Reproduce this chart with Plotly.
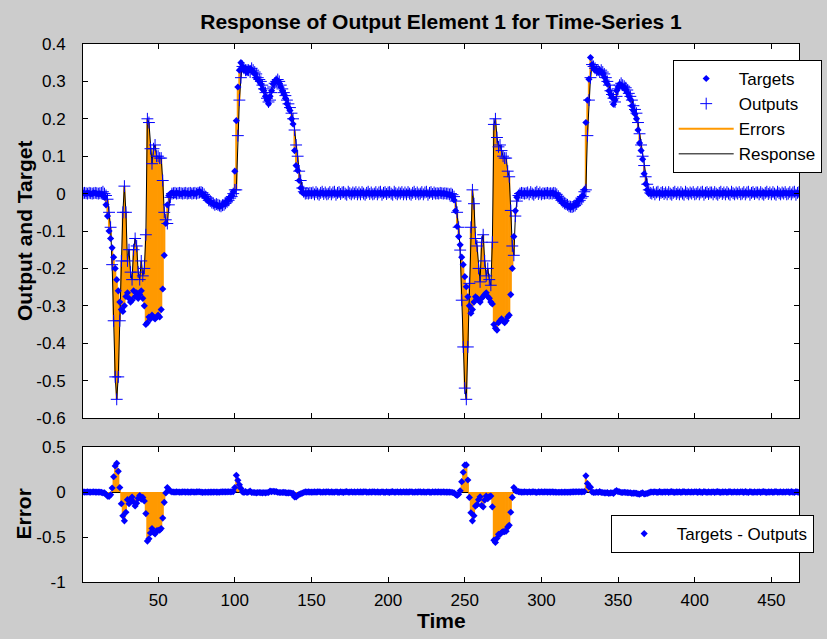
import plotly.graph_objects as go

# ---------------- data ----------------
# one value per time step, t = 1 .. 468 ; rows hold 10 steps each
targets = [
    0.002, 0.001, 0.0, 0.002, 0.001, -0.001, 0.0, 0.002, 0.001, 0.0,            # 1-10
    -0.001, 0.0, -0.002, -0.004, -0.01, -0.03, -0.06, -0.10, -0.12, -0.145,      # 11-20
    -0.17, -0.20, -0.23, -0.26, -0.29, -0.31, -0.315, -0.30, -0.275, -0.265,     # 21-30
    -0.28, -0.29, -0.285, -0.26, -0.275, -0.265, -0.28, -0.27, -0.26, -0.28,     # 31-40
    -0.30, -0.35, -0.345, -0.33, -0.335, -0.325, -0.33, -0.335, -0.33, -0.325,   # 41-50
    -0.33, -0.31, -0.255, -0.165, -0.08, -0.03, -0.005, 0.0, 0.002, 0.001,       # 51-60
    0.0, 0.002, 0.001, 0.0, -0.001, 0.001, 0.002, 0.0, 0.001, -0.001,            # 61-70
    0.0, 0.002, 0.001, 0.0, 0.001, 0.004, 0.006, 0.003, -0.002, -0.005,          # 71-80
    -0.01, -0.015, -0.02, -0.022, -0.025, -0.028, -0.03, -0.03, -0.032, -0.035,  # 81-90
    -0.033, -0.03, -0.028, -0.025, -0.02, -0.015, -0.01, -0.005, 0.005, 0.06,    # 91-100
    0.195, 0.285, 0.33, 0.35, 0.34, 0.33, 0.335, 0.325, 0.33, 0.335,             # 101-110
    0.33, 0.325, 0.32, 0.31, 0.305, 0.30, 0.293, 0.28, 0.275, 0.26,              # 111-120
    0.25, 0.24, 0.26, 0.275, 0.293, 0.30, 0.305, 0.302, 0.295, 0.285,            # 121-130
    0.275, 0.266, 0.255, 0.24, 0.23, 0.222, 0.20, 0.186, 0.115, 0.075,           # 131-140
    0.062, 0.035, 0.015, 0.003, 0.0, 0.001, 0.0, 0.002, 0.001, 0.0,              # 141-150
    0.001, 0.0, 0.002, 0.001, 0.0, 0.001, 0.002, 0.0, 0.001, 0.0,                # 151-160
    0.002, 0.001, 0.0, 0.001, 0.002, 0.0, 0.001, 0.0, 0.002, 0.001,              # 161-170
    0.0, 0.001, 0.001, 0.002, 0.0, 0.001, 0.0, 0.002, 0.001, 0.001,              # 171-180
    0.001, 0.0, 0.002, 0.001, 0.0, 0.001, 0.002, 0.0, 0.001, 0.0,                # 181-190
    0.002, 0.001, 0.0, 0.001, 0.002, 0.0, 0.001, 0.0, 0.002, 0.001,              # 191-200
    0.0, 0.001, 0.001, 0.002, 0.0, 0.001, 0.0, 0.002, 0.001, 0.001,              # 201-210
    0.001, 0.0, 0.002, 0.001, 0.0, 0.001, 0.002, 0.0, 0.001, 0.0,                # 211-220
    0.002, 0.001, 0.0, 0.001, 0.002, 0.0, 0.001, 0.0, 0.002, 0.001,              # 221-230
    0.001, 0.0, 0.002, 0.001, 0.0, 0.001, 0.0, -0.001, -0.002, -0.003,           # 231-240
    -0.003, -0.008, -0.017, -0.046, -0.088, -0.115, -0.137, -0.17, -0.19, -0.222,  # 241-250
    -0.249, -0.276, -0.30, -0.32, -0.31, -0.29, -0.276, -0.28, -0.285, -0.29,    # 251-260
    -0.28, -0.275, -0.27, -0.265, -0.275, -0.28, -0.29, -0.295, -0.35, -0.36,    # 261-270
    -0.365, -0.345, -0.34, -0.335, -0.34, -0.345, -0.34, -0.33, -0.325, -0.27,   # 271-280
    -0.20, -0.115, -0.046, -0.01, 0.0, 0.002, 0.001, 0.0, 0.002, 0.001,          # 281-290
    0.0, 0.001, 0.001, 0.002, 0.0, 0.001, 0.0, 0.002, 0.001, 0.001,              # 291-300
    0.0, 0.001, 0.002, 0.0, 0.001, 0.0, 0.002, 0.001, 0.0, -0.005,               # 301-310
    -0.01, -0.015, -0.02, -0.025, -0.028, -0.03, -0.033, -0.035, -0.037, -0.035, # 311-320
    -0.033, -0.03, -0.025, -0.02, -0.015, -0.01, -0.005, 0.01, 0.19, 0.25,       # 321-330
    0.306, 0.364, 0.345, 0.335, 0.33, 0.33, 0.325, 0.33, 0.325, 0.32,            # 331-340
    0.311, 0.30, 0.293, 0.275, 0.265, 0.257, 0.239, 0.25, 0.275, 0.285,          # 341-350
    0.293, 0.29, 0.285, 0.284, 0.278, 0.27, 0.26, 0.252, 0.235, 0.222,           # 351-360
    0.213, 0.20, 0.17, 0.135, 0.115, 0.092, 0.053, 0.026, 0.01, 0.0,             # 361-370
    0.001, 0.0, 0.002, 0.001, 0.0, 0.001, 0.002, 0.0, 0.001, 0.0,                # 371-380
    0.002, 0.001, 0.0, 0.001, 0.002, 0.0, 0.001, 0.0, 0.002, 0.001,              # 381-390
    0.0, 0.001, 0.001, 0.002, 0.0, 0.001, 0.0, 0.002, 0.001, 0.001,              # 391-400
    0.001, 0.0, 0.002, 0.001, 0.0, 0.001, 0.002, 0.0, 0.001, 0.0,                # 401-410
    0.002, 0.001, 0.0, 0.001, 0.002, 0.0, 0.001, 0.0, 0.002, 0.001,              # 411-420
    0.0, 0.001, 0.001, 0.002, 0.0, 0.001, 0.0, 0.002, 0.001, 0.001,              # 421-430
    0.001, 0.0, 0.002, 0.001, 0.0, 0.001, 0.002, 0.0, 0.001, 0.0,                # 431-440
    0.002, 0.001, 0.0, 0.001, 0.002, 0.0, 0.001, 0.0, 0.002, 0.001,              # 441-450
    0.0, 0.001, 0.001, 0.002, 0.0, 0.001, 0.0, 0.002, 0.001, 0.001,              # 451-460
    0.001, 0.0, 0.002, 0.001, 0.0, 0.001, 0.002, 0.0,                            # 461-468
]

outputs = [
    0.001, 0.002, 0.001, 0.0, 0.002, 0.001, 0.0, 0.001, 0.002, 0.001,            # 1-10
    0.0, 0.001, 0.002, 0.005, 0.0, -0.005, -0.015, -0.05, -0.09, -0.19,          # 11-20
    -0.34, -0.49, -0.55, -0.49, -0.34, -0.18, -0.05, 0.02, -0.05, -0.18,         # 21-30
    -0.15, -0.21, -0.23, -0.15, -0.12, -0.14, -0.21, -0.23, -0.18, -0.22,        # 31-40
    -0.20, -0.11, 0.20, 0.19, 0.12, 0.08, 0.12, 0.13, 0.10, 0.10,                # 41-50
    0.095, 0.095, 0.035, -0.05, -0.07, -0.08, -0.03, -0.01, 0.0, 0.001,          # 51-60
    0.002, 0.0, 0.001, 0.002, 0.001, 0.0, 0.001, 0.002, 0.0, 0.001,              # 61-70
    0.002, 0.0, 0.001, 0.002, 0.0, 0.002, 0.003, 0.004, 0.002, -0.002,           # 71-80
    -0.008, -0.012, -0.018, -0.02, -0.024, -0.026, -0.03, -0.028, -0.03, -0.032, # 81-90
    -0.034, -0.031, -0.03, -0.026, -0.022, -0.018, -0.012, -0.008, 0.0, 0.01,    # 91-100
    0.01, 0.155, 0.25, 0.31, 0.34, 0.335, 0.33, 0.33, 0.33, 0.325,               # 101-110
    0.335, 0.33, 0.325, 0.32, 0.31, 0.305, 0.30, 0.29, 0.28, 0.27,               # 111-120
    0.255, 0.245, 0.25, 0.27, 0.285, 0.295, 0.30, 0.305, 0.30, 0.29,             # 121-130
    0.28, 0.27, 0.262, 0.25, 0.24, 0.23, 0.215, 0.20, 0.17, 0.13,                # 131-140
    0.10, 0.06, 0.035, 0.015, 0.005, 0.0, 0.001, 0.0, 0.002, 0.001,              # 141-150
    0.003, -0.002, 0.004, 0.0, -0.003, 0.002, 0.005, -0.001, 0.003, -0.002,      # 151-160
    0.0, 0.004, -0.002, 0.003, 0.005, -0.003, 0.002, 0.004, -0.001, 0.003,       # 161-170
    0.004, 0.0, -0.003, 0.005, 0.001, -0.002, 0.003, 0.0, 0.004, -0.002,         # 171-180
    0.003, -0.002, 0.004, 0.0, -0.003, 0.002, 0.005, -0.001, 0.003, -0.002,      # 181-190
    0.0, 0.004, -0.002, 0.003, 0.005, -0.003, 0.002, 0.004, -0.001, 0.003,       # 191-200
    0.004, 0.0, -0.003, 0.005, 0.001, -0.002, 0.003, 0.0, 0.004, -0.002,         # 201-210
    0.003, -0.002, 0.004, 0.0, -0.003, 0.002, 0.005, -0.001, 0.003, -0.002,      # 211-220
    0.0, 0.004, -0.002, 0.003, 0.005, -0.003, 0.002, 0.004, -0.001, 0.003,       # 221-230
    0.0, 0.001, 0.0, 0.002, 0.001, 0.0, 0.001, 0.0, 0.0, -0.002,                 # 231-240
    0.0, -0.003, -0.008, -0.02, -0.05, -0.09, -0.151, -0.285, -0.41, -0.52,      # 241-250
    -0.55, -0.41, -0.24, -0.09, 0.01, -0.027, -0.12, -0.14, -0.20, -0.236,       # 251-260
    -0.13, -0.11, -0.18, -0.22, -0.20, -0.23, -0.245, -0.13, 0.185, 0.20,        # 261-270
    0.15, 0.125, 0.13, 0.115, 0.10, 0.095, 0.095, 0.06, 0.045, -0.045,           # 271-280
    -0.14, -0.165, -0.06, -0.02, -0.005, 0.0, 0.002, 0.001, 0.0, 0.001,          # 281-290
    0.003, -0.002, 0.004, 0.0, -0.003, 0.002, 0.005, -0.001, 0.003, -0.002,      # 291-300
    0.001, 0.0, 0.001, 0.002, 0.0, 0.001, 0.0, 0.002, 0.001, -0.002,             # 301-310
    -0.007, -0.012, -0.018, -0.022, -0.026, -0.028, -0.03, -0.034, -0.035, -0.036,  # 311-320
    -0.034, -0.032, -0.028, -0.022, -0.018, -0.012, -0.008, 0.005, 0.01, 0.155,  # 321-330
    0.25, 0.31, 0.345, 0.34, 0.335, 0.33, 0.33, 0.325, 0.33, 0.325,              # 331-340
    0.32, 0.31, 0.30, 0.29, 0.275, 0.265, 0.255, 0.245, 0.26, 0.28,              # 341-350
    0.29, 0.295, 0.29, 0.287, 0.283, 0.277, 0.268, 0.26, 0.25, 0.235,            # 351-360
    0.225, 0.215, 0.19, 0.16, 0.13, 0.10, 0.075, 0.045, 0.025, 0.01,             # 361-370
    0.002, 0.0, 0.004, -0.002, 0.003, 0.005, -0.003, 0.002, 0.004, -0.001,       # 371-380
    0.003, -0.002, 0.004, 0.0, -0.003, 0.002, 0.005, -0.001, 0.003, -0.002,      # 381-390
    0.004, 0.0, -0.003, 0.005, 0.001, -0.002, 0.003, 0.0, 0.004, -0.002,         # 391-400
    0.0, 0.004, -0.002, 0.003, 0.005, -0.003, 0.002, 0.004, -0.001, 0.003,       # 401-410
    0.003, -0.002, 0.004, 0.0, -0.003, 0.002, 0.005, -0.001, 0.003, -0.002,      # 411-420
    0.004, 0.0, -0.003, 0.005, 0.001, -0.002, 0.003, 0.0, 0.004, -0.002,         # 421-430
    0.0, 0.004, -0.002, 0.003, 0.005, -0.003, 0.002, 0.004, -0.001, 0.003,       # 431-440
    0.003, -0.002, 0.004, 0.0, -0.003, 0.002, 0.005, -0.001, 0.003, -0.002,      # 441-450
    0.004, 0.0, -0.003, 0.005, 0.001, -0.002, 0.003, 0.0, 0.004, -0.002,         # 451-460
    0.0, 0.004, -0.002, 0.003, 0.005, -0.003, 0.002, 0.004,                      # 461-468
]

time_range = [1, 468]
x_ticks = [50, 100, 150, 200, 250, 300, 350, 400, 450]
x_tick_labels = ["50", "100", "150", "200", "250", "300", "350", "400", "450"]
y_ticks_top = [0.4, 0.3, 0.2, 0.1, 0, -0.1, -0.2, -0.3, -0.4, -0.5, -0.6]
y_tick_labels_top = ["0.4", "0.3", "0.2", "0.1", "0", "-0.1", "-0.2", "-0.3", "-0.4", "-0.5", "-0.6"]
y_range_top = [-0.6, 0.4]
y_ticks_err = [0.5, 0, -0.5, -1]
y_tick_labels_err = ["0.5", "0", "-0.5", "-1"]
y_range_err = [-1, 0.5]

# ---------------- derived ----------------
n = min(len(targets), len(outputs))
time = list(range(1, n + 1))
T = targets[:n]
O = outputs[:n]
errors = [T[i] - O[i] for i in range(n)]

ex, ey = [], []
for t, a, b in zip(time, T, O):
    ex += [t, t, None]
    ey += [a, b, None]
sx, sy = [], []
for t, e in zip(time, errors):
    sx += [t, t, None]
    sy += [0, e, None]

BLUE = "#0000FF"
ORANGE = "#FF9900"
FONT = "Liberation Sans, Arial, sans-serif"
TICK = 17
LAB = 21

fig = go.Figure()
fig.add_trace(go.Scatter(x=ex, y=ey, mode="lines", name="Errors",
                         line=dict(color=ORANGE, width=2.2), legendrank=3, legendgroup="g3",
                         xaxis="x", yaxis="y", legend="legend"))
fig.add_trace(go.Scatter(x=time, y=O, mode="lines", name="Response",
                         line=dict(color="black", width=1), legendrank=4, legendgroup="g4",
                         xaxis="x", yaxis="y", legend="legend"))
fig.add_trace(go.Scatter(x=time, y=T, mode="markers", name="Targets",
                         marker=dict(symbol="diamond", size=5.5, color=BLUE,
                                     line=dict(width=0)), legendrank=1, legendgroup="g1",
                         xaxis="x", yaxis="y", legend="legend"))
fig.add_trace(go.Scatter(x=time, y=O, mode="markers", name="Outputs",
                         marker=dict(symbol="cross-thin", size=8.5, color=BLUE,
                                     line=dict(width=1, color=BLUE)), legendrank=2, legendgroup="g2",
                         xaxis="x", yaxis="y", legend="legend"))

fig.add_trace(go.Scatter(x=sx, y=sy, mode="lines", showlegend=False,
                         line=dict(color=ORANGE, width=2.2),
                         xaxis="x2", yaxis="y2"))
fig.add_trace(go.Scatter(x=time, y=errors, mode="markers", name="Targets - Outputs",
                         marker=dict(symbol="diamond", size=5.5, color=BLUE,
                                     line=dict(width=0)),
                         xaxis="x2", yaxis="y2", legend="legend2"))

axis_common = dict(showline=True, linecolor="black", linewidth=1, mirror="ticks",
                   ticks="inside", ticklen=5, tickcolor="black", showgrid=False,
                   tickfont=dict(family=FONT, size=TICK, color="black"))

fig.update_layout(
    width=827, height=639,
    margin=dict(l=83, r=28, t=44, b=57, autoexpand=False),
    paper_bgcolor="#CCCCCC", plot_bgcolor="white",
    font=dict(family=FONT, size=TICK, color="black"),
    title=dict(text="<b>Response of Output Element 1 for Time-Series 1</b>",
               x=0.5, xref="paper", y=1 - 22 / 639, yref="container",
               xanchor="center", yanchor="middle",
               font=dict(family=FONT, size=LAB, color="black")),
    xaxis=dict(domain=[0, 1], range=time_range, anchor="y", tickvals=x_ticks,
               ticktext=x_tick_labels, showticklabels=False, zeroline=False, **axis_common),
    yaxis=dict(domain=[0.3048, 1], range=y_range_top, anchor="x", tickvals=y_ticks_top,
               ticktext=y_tick_labels_top, zeroline=False, ticklabelstandoff=13, **axis_common),
    xaxis2=dict(domain=[0, 1], range=time_range, anchor="y2", tickvals=x_ticks,
                ticktext=x_tick_labels, zeroline=False, ticklabelstandoff=3, **axis_common),
    yaxis2=dict(domain=[0, 0.2509], range=y_range_err, anchor="x2", tickvals=y_ticks_err,
                ticktext=y_tick_labels_err, zeroline=True, zerolinecolor="black",
                zerolinewidth=1, ticklabelstandoff=13, **axis_common),
    legend=dict(x=0.8236, y=0.9703, xanchor="left", yanchor="top",
                bgcolor="white", bordercolor="black", borderwidth=1,
                font=dict(family=FONT, size=TICK, color="black"),
                itemwidth=55, traceorder="grouped", tracegroupgap=0),
    legend2=dict(x=0.737, y=0.1245, xanchor="left", yanchor="top",
                 bgcolor="white", bordercolor="black", borderwidth=1,
                 font=dict(family=FONT, size=TICK, color="black"), itemwidth=55),
    annotations=[
        dict(text="<b>Output and Target</b>", xref="paper", yref="paper",
             x=0, y=(0.3048 + 1) / 2, xshift=-59, textangle=-90,
             xanchor="center", yanchor="middle", showarrow=False,
             font=dict(family=FONT, size=LAB, color="black")),
        dict(text="<b>Error</b>", xref="paper", yref="paper",
             x=0, y=0.2509 / 2, xshift=-59, textangle=-90,
             xanchor="center", yanchor="middle", showarrow=False,
             font=dict(family=FONT, size=LAB, color="black")),
        dict(text="<b>Time</b>", xref="paper", yref="paper",
             x=0.5, y=0, yshift=-38, xanchor="center", yanchor="middle",
             showarrow=False, font=dict(family=FONT, size=LAB, color="black")),
    ],
)

fig.write_html("out.html")
